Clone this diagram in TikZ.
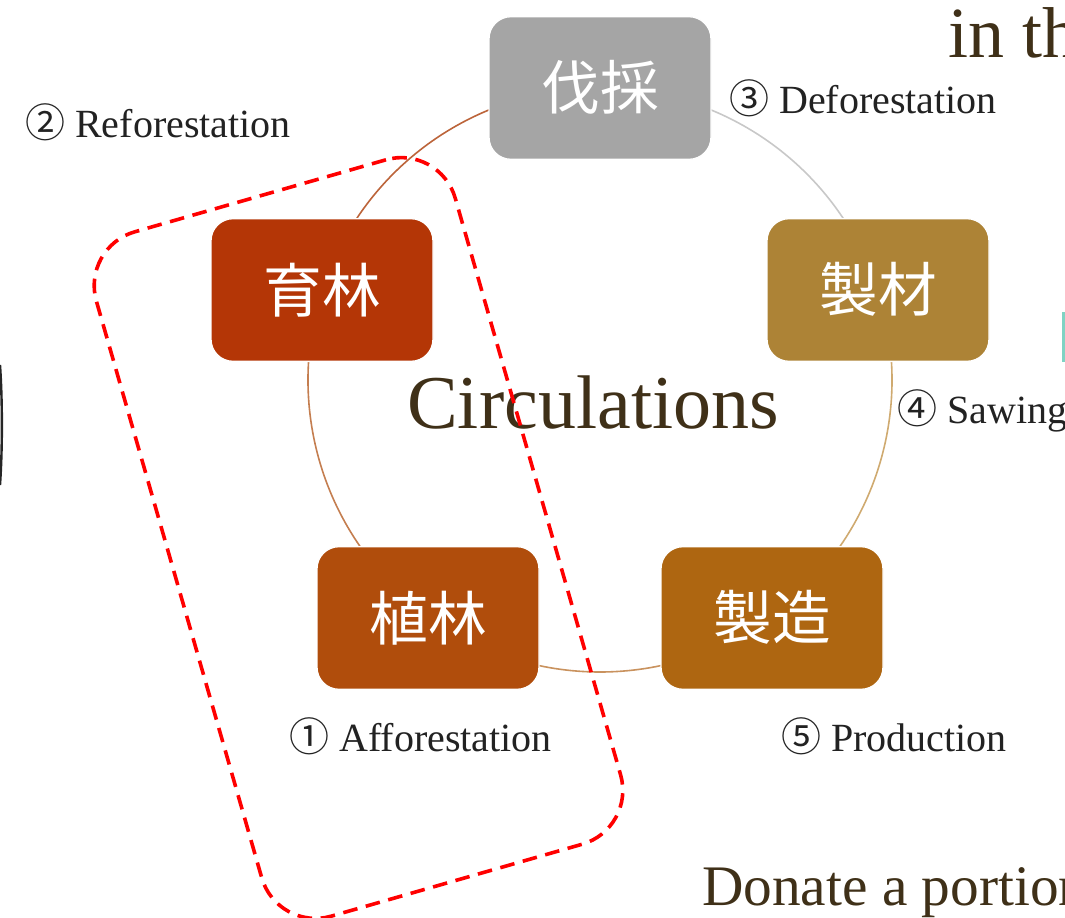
\documentclass[tikz,border=0pt]{standalone}
\usepackage{fontspec}
\setmainfont{Liberation Serif}
\newfontfamily\cjk{Noto Sans CJK JP}
\definecolor{labelc}{HTML}{222222}
\definecolor{brownt}{HTML}{3F3018}
\definecolor{cA}{HTML}{A5A5A5}
\definecolor{cB}{HTML}{AD8336}
\definecolor{cC}{HTML}{AE6611}
\definecolor{cD}{HTML}{B04D0C}
\definecolor{cE}{HTML}{B43606}
\definecolor{aA}{HTML}{C8C8C8}
\definecolor{aB}{HTML}{CFAA70}
\definecolor{aC}{HTML}{C9925E}
\definecolor{aD}{HTML}{C47E50}
\definecolor{aE}{HTML}{BC643A}
\definecolor{teal}{HTML}{7FD3C3}
\begin{document}
\begin{tikzpicture}[x=0.75pt,y=-0.75pt,
  box/.style={rounded corners=16.5pt, minimum width=166.5pt, minimum height=107pt,
    inner sep=0pt, text=white, font=\cjk\fontsize{44}{50}\selectfont, draw=white, line width=1pt},
  lbl/.style={anchor=base west, inner sep=0pt, text=labelc, font=\fontsize{30}{36}\selectfont},
  big/.style={anchor=base west, inner sep=0pt, text=brownt},
  ring/.style={line width=1.2pt}]
\useasboundingbox (0,0) rectangle (1065,918);
\clip (0,0) rectangle (1065,918);
% ring segments
\draw[ring,aA] ([shift={(600,380)}]-90:292) arc[start angle=-90, end angle=-18, radius=292];
\draw[ring,aB] ([shift={(600,380)}]-18:292) arc[start angle=-18, end angle=54, radius=292];
\draw[ring,aC] ([shift={(600,380)}]54:292) arc[start angle=54, end angle=126, radius=292];
\draw[ring,aD] ([shift={(600,380)}]126:292) arc[start angle=126, end angle=198, radius=292];
\draw[ring,aE] ([shift={(600,380)}]198:292) arc[start angle=198, end angle=270, radius=292];
% boxes
\node[box, fill=cA] (bassai) at (600,88) {\raisebox{4pt}{伐採}};
\node[box, fill=cB] (seizai) at (878,290) {\raisebox{4pt}{製材}};
\node[box, fill=cC] (seizo) at (772,618) {\raisebox{4pt}{製造}};
\node[box, fill=cD] (shokurin) at (428,618) {\raisebox{4pt}{植林}};
\node[box, fill=cE] (ikurin) at (322,290) {\raisebox{4pt}{育林}};
% labels
\node[lbl] (l2) at (25,137) {{\cjk ②} Reforestation};
\node[lbl] (l3) at (729,113) {{\cjk ③} Deforestation};
\node[lbl] (l4) at (897,423) {{\cjk ④} Sawing};
\node[lbl] (l1) at (289,751) {{\cjk ①} Afforestation};
\node[lbl] (l5) at (781,751) {{\cjk ⑤} Production};
\node[big, font=\fontsize{57}{64}\selectfont] (circ) at (407,428) {Circulations};
\node[big, font=\fontsize{54}{60}\selectfont] (inthe) at (948,57) {in the};
\node[big, font=\fontsize{43}{50}\selectfont] (donate) at (702,905) {Donate a portion};
% edge marks
\fill[teal] (1062,312) rectangle (1065,362);
\draw[black!85, line width=1.8pt] (0,365) .. controls (2.5,400) and (2.5,450) .. (0,485);
% dashed group
\node[draw=red, dash pattern=on 11pt off 6.5pt, line width=2.7pt, rotate=16,
  minimum width=280pt, minimum height=534pt, rounded corners=42pt, inner sep=0pt] (grp) at (358.5,538) {};
\end{tikzpicture}
\end{document}
